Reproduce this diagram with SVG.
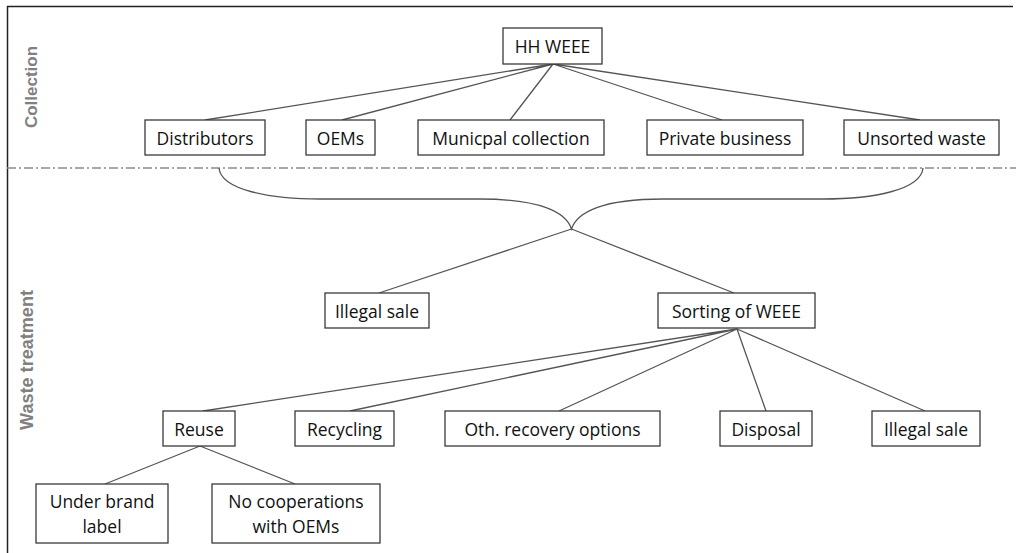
<svg xmlns="http://www.w3.org/2000/svg" width="1016" height="553" viewBox="0 0 1016 553">
<style>
.box{fill:#fff;stroke:#3a3a3a;stroke-width:1.3}
.t{font-family:"Open Sans","Liberation Sans",sans-serif;font-size:17.5px;fill:#111;text-anchor:middle;dominant-baseline:central}
.side{font-family:"Liberation Sans",Arial,sans-serif;font-weight:bold;font-size:17px;fill:#808080;text-anchor:middle}
.c{stroke:#555;stroke-width:1.3;fill:none}
</style>
<rect width="1016" height="553" fill="#fff"/>
<g id="frame">
<line x1="7" y1="6.5" x2="1013" y2="6.5" stroke="#222" stroke-width="1.5"/>
<line x1="7.5" y1="6" x2="7.5" y2="553" stroke="#222" stroke-width="1.5"/>
<line x1="7" y1="168" x2="1016" y2="168" stroke="#8a8a8a" stroke-width="1.3" stroke-dasharray="9 3 2 3"/>
</g>
<g id="side-labels">
<text class="side" transform="translate(37,87) rotate(-90)">Collection</text>
<text class="side" transform="translate(32.5,360) rotate(-90)" style="font-size:18px" textLength="140" lengthAdjust="spacingAndGlyphs">Waste treatment</text>
</g>
<g id="connectors">
<path class="c" d="M553 64 L205 120 M553 64 L342 120 M553 64 L510 120 M553 64 L722 120 M553 64 L920 120"/>
<path class="c" d="M219 168 C221 190 270 199 320 199 L480 199 C540 199 566 212 571.5 229 C577 212 603 199 663 199 L823 199 C873 199 921 190 923 168"/>
<path class="c" d="M571.5 229 L379 293 M571.5 229 L734 293"/>
<path class="c" d="M737 329 L203 411 M737 329 L350 411 M737 329 L559 411 M737 329 L766 411 M737 329 L925 411"/>
<path class="c" d="M200 446 L105 484 M200 446 L295 484"/>
</g>
<g id="hh-weee"><rect class="box" x="503" y="28" width="99" height="36"/><text class="t" x="552.5" y="46">HH WEEE</text></g>
<g id="distributors"><rect class="box" x="145" y="120" width="120" height="35"/><text class="t" x="205" y="137.5">Distributors</text></g>
<g id="oems"><rect class="box" x="306" y="120" width="69" height="35"/><text class="t" x="340.5" y="137.5">OEMs</text></g>
<g id="municipal"><rect class="box" x="418" y="120" width="186" height="35"/><text class="t" x="511" y="137.5">Municpal collection</text></g>
<g id="private"><rect class="box" x="647" y="120" width="156" height="35"/><text class="t" x="725" y="137.5">Private business</text></g>
<g id="unsorted"><rect class="box" x="844" y="120" width="155" height="35"/><text class="t" x="921.5" y="137.5">Unsorted waste</text></g>
<g id="illegal-sale-1"><rect class="box" x="325" y="293" width="104" height="35"/><text class="t" x="377" y="310.5">Illegal sale</text></g>
<g id="sorting"><rect class="box" x="658" y="293" width="157" height="35"/><text class="t" x="736.5" y="310.5">Sorting of WEEE</text></g>
<g id="reuse"><rect class="box" x="163" y="411" width="72" height="35"/><text class="t" x="199" y="428.5">Reuse</text></g>
<g id="recycling"><rect class="box" x="295" y="411" width="99" height="35"/><text class="t" x="344.5" y="428.5">Recycling</text></g>
<g id="oth-recovery"><rect class="box" x="445" y="411" width="215" height="35"/><text class="t" x="552.5" y="428.5">Oth. recovery options</text></g>
<g id="disposal"><rect class="box" x="720" y="411" width="92" height="35"/><text class="t" x="766" y="428.5">Disposal</text></g>
<g id="illegal-sale-2"><rect class="box" x="872" y="411" width="108" height="35"/><text class="t" x="926" y="428.5">Illegal sale</text></g>
<g id="under-brand"><rect class="box" x="36" y="484" width="132" height="59"/><text class="t" x="102" y="501">Under brand</text><text class="t" x="102" y="526">label</text></g>
<g id="no-coop"><rect class="box" x="212" y="484" width="168" height="59"/><text class="t" x="296" y="501">No cooperations</text><text class="t" x="296" y="526">with OEMs</text></g>
</svg>
